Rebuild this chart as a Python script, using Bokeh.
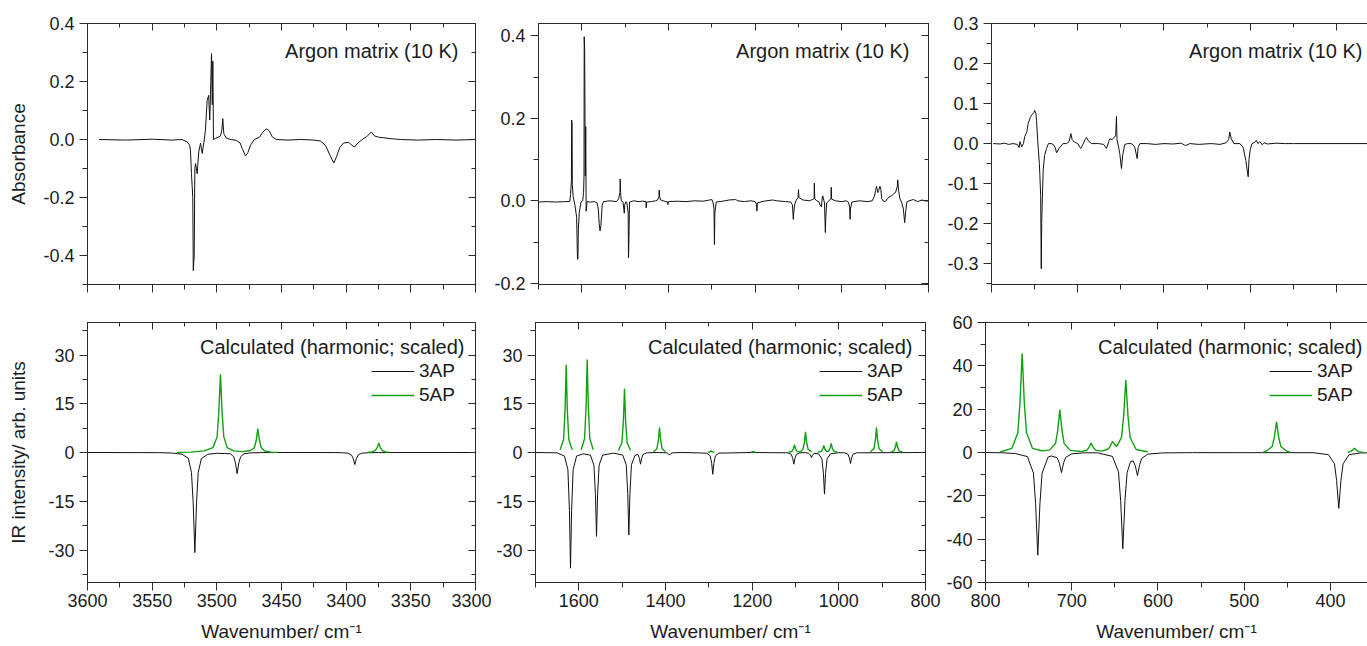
from bokeh.plotting import figure
from bokeh.models import (Range1d, LinearAxis, FixedTicker, PrintfTickFormatter,
                          CustomJSTickFormatter, Label, Legend, LegendItem)
from bokeh.layouts import row, column
from bokeh.embed import file_html
from bokeh.resources import INLINE

NAN = float("nan")

# ---------------- data ----------------
# Experimental difference spectra, Argon matrix (10 K): (wavenumber, absorbance)
exp_oh = [
    (3591, 0.0), (3570, -0.002), (3550, 0.001), (3535, -0.002), (3527, 0.0), (3523, -0.008), (3521, -0.02),
    (3520.4, -0.037), (3519.6, -0.118), (3518.6, -0.2), (3518.2, -0.452), (3517.5, -0.40), (3517.0, -0.10),
    (3516.5, -0.083), (3515.2, -0.118), (3514.0, -0.043), (3512.6, -0.013), (3511.3, -0.048), (3510.0, -0.01),
    (3508.8, 0.032), (3507.5, 0.135), (3506.3, 0.152), (3505.5, 0.067), (3504.9, 0.155), (3504.1, 0.296),
    (3503.5, 0.12), (3503.1, 0.27), (3502.6, 0.0), (3501.0, 0.004), (3499.0, 0.008), (3497.2, 0.012),
    (3496.2, 0.03), (3495.4, 0.072), (3494.6, 0.02), (3492.5, 0.004), (3489, 0.0), (3485, -0.003),
    (3482, -0.012), (3480, -0.035), (3477.8, -0.057), (3476, -0.045), (3474, -0.02), (3471, 0.0), (3467, 0.008),
    (3464.5, 0.025), (3461.6, 0.037), (3459.5, 0.03), (3457, 0.008), (3454, 0.0), (3445, -0.002), (3435, 0.0),
    (3425, -0.002), (3420, -0.005), (3416, -0.02), (3413, -0.05), (3409.6, -0.081), (3407.5, -0.06),
    (3405, -0.028), (3402, -0.012), (3398, -0.01), (3395.5, -0.02), (3393.6, -0.026), (3391, -0.012),
    (3387, 0.002), (3384, 0.01), (3380.6, 0.026), (3378, 0.012), (3375, 0.008), (3371, 0.006), (3366, 0.003),
    (3358, 0.0), (3345, -0.002), (3330, 0.0), (3315, -0.002), (3300, 0.0),
]
exp_mid = [
    (1700, -0.003), (1680, -0.002), (1660, -0.003), (1640, -0.002), (1628, -0.002), (1626, 0.015), (1624, 0.05),
    (1623.5, 0.196), (1622.5, 0.19), (1622, 0.04), (1620, 0.01), (1616, -0.01), (1612, -0.04), (1610, -0.142),
    (1609, -0.14), (1608, -0.069), (1606, -0.03), (1602, -0.003), (1598, 0.0), (1596, 0.02), (1595, 0.06),
    (1594.5, 0.398), (1593.5, 0.37), (1592, 0.06), (1591, 0.18), (1590, -0.025), (1588, -0.002), (1580, -0.003),
    (1570, -0.002), (1565, -0.005), (1562, -0.02), (1560, -0.055), (1558, -0.073), (1556, -0.06), (1553, -0.01),
    (1550, -0.002), (1535, 0.0), (1520, -0.002), (1515, 0.005), (1512, 0.02), (1511.5, 0.053), (1510.5, 0.02),
    (1509, 0.0), (1505, -0.003), (1502, -0.03), (1501, -0.01), (1498, -0.002), (1496, -0.005), (1493, -0.03),
    (1492.3, -0.138), (1491.5, -0.105), (1490, -0.003), (1480, 0.0), (1470, -0.002), (1460, -0.001),
    (1452, -0.002), (1451.5, -0.017), (1450.5, -0.003), (1440, -0.002), (1430, 0.0), (1425, 0.002),
    (1422, 0.01), (1421.5, 0.026), (1420.5, 0.01), (1418, 0.002), (1410, -0.001), (1403, -0.002),
    (1401.5, -0.009), (1400, -0.002), (1380, -0.001), (1360, -0.002), (1340, 0.0), (1320, -0.001),
    (1305, 0.002), (1300, 0.003), (1297, -0.005), (1295, -0.02), (1294, -0.106), (1293, -0.03), (1290, -0.003),
    (1275, -0.001), (1260, 0.002), (1245, 0.003), (1240, 0.0), (1225, -0.002), (1210, 0.0), (1200, -0.002),
    (1197, -0.008), (1196, -0.025), (1195, -0.005), (1180, -0.001), (1160, 0.002), (1150, 0.0), (1130, -0.002),
    (1118, -0.003), (1114, -0.01), (1112, -0.045), (1111, -0.03), (1109, -0.01), (1106, 0.0), (1101, 0.008),
    (1100, 0.027), (1099, 0.008), (1090, 0.002), (1075, 0.0), (1068, 0.003), (1064, 0.005), (1063.5, 0.043),
    (1062.5, 0.005), (1058, 0.0), (1053, -0.002), (1050, -0.01), (1047, -0.015), (1045, 0.01), (1044, 0.012),
    (1040, -0.005), (1038, -0.077), (1037, -0.04), (1035, -0.005), (1030, 0.0), (1025, 0.005), (1024.5, 0.033),
    (1023.5, 0.004), (1015, 0.0), (1000, -0.002), (990, 0.0), (985, -0.003), (982, -0.015), (981, -0.045),
    (980, -0.02), (977, -0.003), (960, 0.0), (940, -0.002), (930, 0.0), (925, 0.01), (922, 0.025), (920, 0.035),
    (917, 0.02), (915, 0.025), (912, 0.035), (910, 0.028), (908, 0.005), (905, 0.0), (900, -0.002), (895, 0.005),
    (890, 0.01), (885, 0.012), (880, 0.018), (876, 0.02), (872, 0.035), (871, 0.051), (869, 0.025), (866, 0.005),
    (862, -0.003), (858, -0.02), (855, -0.053), (853, -0.03), (850, -0.003), (845, 0.0), (835, 0.003),
    (825, -0.002), (815, 0.002), (805, -0.001), (800, 0.0),
]
exp_low = [
    (798, 0.0), (790, -0.001), (785, 0.001), (780, -0.002), (775, 0.0), (770, -0.002), (768, -0.01), (767, 0.005),
    (765, -0.008), (763, 0.0), (761.5, 0.017), (759, 0.03), (757.5, 0.05), (755, 0.065), (753.5, 0.071),
    (751, 0.077), (750, 0.083), (748.5, 0.075), (747.8, 0.058), (746.5, 0.01), (745.9, -0.009), (744.5, -0.05),
    (744, -0.075), (743, -0.13), (742.3, -0.3125), (741.8, -0.2), (741, -0.134), (740.1, -0.067), (738.5, -0.03),
    (736.2, -0.0125), (734, 0.0), (731, 0.0), (728.5, -0.002), (726, -0.01), (724.6, -0.023), (721, -0.01),
    (717, 0.0), (713, 0.0), (710, 0.005), (708, 0.025), (706.5, 0.01), (704, 0.004), (700, 0.0), (697.5, -0.01),
    (696.4, -0.012), (694, -0.002), (691.5, 0.01), (689.9, 0.015), (687, 0.005), (684, 0.0), (676, 0.0),
    (670, -0.002), (666.7, -0.012), (664, 0.005), (662.8, 0.012), (660, 0.01), (658, 0.015), (656, 0.02),
    (655.1, 0.068), (654.5, 0.01), (652.5, -0.01), (651.3, -0.025), (649.3, -0.0625), (648, -0.03),
    (645.5, -0.002), (642, 0.0), (638, 0.0), (635, -0.005), (633.8, -0.01), (631.1, -0.0375), (630, -0.01),
    (628, 0.0), (620, 0.0), (610, -0.002), (600, 0.0), (590, -0.001), (580, 0.001), (575, -0.005), (570, 0.0),
    (560, -0.002), (545, 0.0), (535, -0.002), (528, 0.002), (525, 0.01), (523.7, 0.029), (522, 0.012),
    (519, 0.0), (512, 0.0), (508.2, -0.01), (505.1, -0.042), (503, -0.075), (502.4, -0.083), (501.5, -0.04),
    (500, -0.015), (498, 0.0), (495, 0.003), (493, 0.008), (491, 0.0), (489, 0.005), (486, -0.003),
    (484, 0.002), (480, -0.001), (470, 0.001), (460, 0.0), (450, 0.0), (350, 0.0),
]

# Calculated spectra (harmonic; scaled): 3AP drawn negative, 5AP positive
calc_oh_3ap = [
    (3600, 0), (3545, -0.05), (3535, -0.15), (3527, -0.5), (3522, -1.8), (3519.6, -6.2), (3518.3, -15.4),
    (3517.0, -30.8), (3515.7, -15.4), (3514.4, -6.2), (3512, -1.9), (3507, -0.55), (3500, -0.25), (3494, -0.3),
    (3489.5, -0.4), (3487, -1.3), (3485.6, -3.2), (3484.3, -6.5), (3483, -3.2), (3481.6, -1.3), (3479, -0.4),
    (3474, -0.12), (3465, -0.03), (3450, 0), (3410, -0.02), (3403, -0.07), (3398.5, -0.22), (3396, -0.7),
    (3394.6, -1.8), (3393.3, -3.7), (3392, -1.8), (3390.6, -0.7), (3388, -0.22), (3383, -0.07), (3375, -0.02),
    (3300, 0),
]
calc_oh_5ap = [
    (3531, 0.05), (3520, 0.12), (3510, 0.5), (3503, 1.5), (3499.8, 4.8), (3498.5, 12.0), (3497.2, 24.1),
    (3495.9, 12.0), (3494.6, 4.8), (3492, 1.5), (3487, 0.5), (3480, 0.26), (3474, 0.6), (3471, 1.45),
    (3469.6, 3.6), (3468.3, 7.3), (3467, 3.6), (3465.6, 1.45), (3463, 0.45), (3458, 0.12), (3453, 0.05),
    (NAN, NAN),
    (3383, 0.08), (3380, 0.2), (3377.4, 0.65), (3376.1, 1.45), (3374.8, 2.9), (3373.5, 1.45), (3372.2, 0.65),
    (3369.6, 0.2), (3367, 0.08),
]
calc_mid_3ap = [
    (1700, 0), (1650, -0.1), (1633.2, -1.1), (1625.2, -5.3), (1621.7, -17.8), (1619.2, -35.6), (1616.7, -17.8),
    (1613.2, -5.3), (1605.2, -1.1), (1590, -0.4), (1573.2, -0.8), (1565.2, -3.9), (1561.7, -12.9),
    (1559.2, -25.8), (1556.7, -12.9), (1553.2, -3.9), (1545.2, -0.8), (1520, -0.2), (1498.6, -0.8),
    (1490.6, -3.8), (1487.1, -12.7), (1484.6, -25.4), (1482.1, -12.7), (1478.6, -3.8), (1470.6, -0.9),
    (1463.7, -0.6), (1460.2, -1.8), (1457.7, -3.6), (1455.2, -1.8), (1451.7, -0.6), (1443.7, -0.1), (1420, 0),
    (1396.8, -0.1), (1393.3, -0.4), (1390.8, -0.8), (1388.3, -0.4), (1384.8, -0.1), (1360, 0), (1304.9, -0.2),
    (1296.9, -1.0), (1293.4, -3.35), (1290.9, -6.7), (1288.4, -3.35), (1284.9, -1.0), (1276.9, -0.2), (1200, 0),
    (1117.9, -0.1), (1109.9, -0.55), (1106.4, -1.8), (1103.9, -3.6), (1101.4, -1.8), (1097.9, -0.55),
    (1089.9, -0.1), (1077, -0.05), (1069.1, -0.25), (1065.6, -0.8), (1063.1, -1.6), (1060.6, -0.8),
    (1057.1, -0.25), (1047.1, -0.4), (1039.1, -1.9), (1035.6, -6.4), (1033.1, -12.8), (1030.6, -6.4),
    (1027.1, -1.9), (1019.1, -0.4), (1000, -0.05), (987.1, -0.1), (979.1, -0.5), (975.6, -1.7), (973.1, -3.4),
    (970.6, -1.7), (967.1, -0.5), (959.1, -0.1), (800, 0),
]
calc_mid_5ap = [
    (1643.2, 0.8), (1635.2, 4.0), (1631.7, 13.5), (1629.2, 27.0), (1626.7, 13.5), (1623.2, 4.0), (1615.2, 0.8),
    (NAN, NAN),
    (1594.7, 0.86), (1586.7, 4.3), (1583.2, 14.3), (1580.7, 28.6), (1578.2, 14.3), (1574.7, 4.3), (1566.7, 0.86),
    (NAN, NAN),
    (1508.6, 0.6), (1500.6, 3.0), (1497.1, 9.85), (1494.6, 19.7), (1492.1, 9.85), (1488.6, 3.0), (1480.6, 0.6),
    (NAN, NAN),
    (1427.8, 0.23), (1419.8, 1.15), (1416.3, 3.85), (1413.8, 7.7), (1411.3, 3.85), (1407.8, 1.15), (1399.8, 0.23),
    (NAN, NAN),
    (1302, 0.05), (1297, 0.25), (1294.6, 0.5), (1292, 0.25), (1287, 0.05),
    (NAN, NAN),
    (1203, 0.05), (1197.7, 0.3), (1192, 0.05),
    (NAN, NAN),
    (1116.3, 0.07), (1108.3, 0.35), (1104.8, 1.15), (1102.3, 2.3), (1099.8, 1.15), (1096.3, 0.35), (1088, 0.25),
    (1082.9, 0.96), (1079.4, 3.2), (1076.9, 6.4), (1074.4, 3.2), (1070.9, 0.96), (1062.9, 0.2),
    (NAN, NAN),
    (1048.6, 0.07), (1040.6, 0.33), (1037.1, 1.1), (1034.6, 2.2), (1032.1, 1.1), (1028.6, 0.35), (1025, 0.25),
    (1023.7, 0.42), (1020.2, 1.4), (1017.7, 2.8), (1015.2, 1.4), (1011.7, 0.42), (1003.7, 0.08),
    (NAN, NAN),
    (927.1, 0.23), (919.1, 1.15), (915.6, 3.85), (913.1, 7.7), (910.6, 3.85), (907.1, 1.15), (899.1, 0.23),
    (NAN, NAN),
    (880.9, 0.1), (872.9, 0.5), (869.4, 1.65), (866.9, 3.3), (864.4, 1.65), (860.9, 0.5), (852.9, 0.1),
]
calc_low_3ap = [
    (800, 0), (780, -0.15), (765, -0.5), (751.4, -1.9), (744.4, -9.5), (741.9, -23.7), (739.4, -47.4),
    (736.9, -23.7), (734.4, -9.5), (727.4, -2.1), (723.9, -1.6), (716.9, -2.4), (714.4, -4.9), (711.9, -9.3),
    (709.4, -4.7), (706.9, -2.2), (699.9, -0.6), (685, -0.15), (670, -0.15), (652.8, -1.8), (645.8, -8.9),
    (643.3, -22.2), (640.8, -44.4), (638.3, -22.2), (635.8, -9.3), (631.8, -4.15), (628.8, -3.9),
    (626.3, -6.2), (623.8, -10.7), (621.3, -5.6), (618.8, -2.7), (611.8, -0.76), (595, -0.2), (560, -0.06),
    (420, -0.1), (402.4, -1.0), (395.4, -5.2), (392.9, -12.9), (390.4, -25.8), (387.9, -12.9), (385.4, -5.2),
    (378.4, -1.0), (365, -0.2), (350, -0.1),
]
calc_low_5ap = [
    (783, 0.25), (769.5, 1.9), (762.5, 9.1), (760, 22.9), (757.5, 45.7), (755, 22.9), (752.5, 9.2),
    (745.5, 1.9), (735, 0.83), (725.8, 1.1), (718.8, 4.15), (716.3, 10.1), (713.8, 19.8), (711.3, 10.05),
    (708.8, 4.1), (701.8, 0.97), (689.5, 0.43), (682.5, 1.05), (680, 2.3), (677.5, 4.3), (675, 2.3),
    (672.5, 1.1), (665, 0.64), (657.8, 1.6), (655.3, 3.0), (652.8, 5.1), (650.3, 3.75), (647.8, 2.8),
    (642.3, 7.0), (639.8, 16.9), (637.3, 33.4), (634.8, 16.8), (632.3, 6.8), (625.3, 1.4), (612, 0.32),
    (NAN, NAN),
    (478, 0.14), (474.6, 0.56), (467.6, 2.8), (465.1, 7.05), (462.6, 14.1), (460.1, 7.05), (457.6, 2.8),
    (450.6, 0.56), (447, 0.3),
    (NAN, NAN),
    (380, 0.1), (377.2, 0.4), (374.7, 1.0), (372.2, 2.0), (369.7, 1.0), (367.2, 0.4), (362, 0.08),
]

# axis ranges and ticks
x_ranges = [(3600, 3300), (1700, 800), (800, 357.1)]
x_major = [[3600, 3550, 3500, 3450, 3400, 3350, 3300], [1600, 1400, 1200, 1000, 800], [800, 700, 600, 500, 400]]
x_minor = [[3575, 3525, 3475, 3425, 3375, 3325], [1700, 1500, 1300, 1100, 900], [750, 650, 550, 450]]
exp_y_ranges = [(-0.5, 0.4), (-0.203, 0.43), (-0.352, 0.3)]
exp_y_major = [[-0.4, -0.2, 0.0, 0.2, 0.4], [-0.2, 0.0, 0.2, 0.4], [-0.3, -0.2, -0.1, 0.0, 0.1, 0.2, 0.3]]
exp_y_minor = [[-0.5, -0.3, -0.1, 0.1, 0.3], [-0.1, 0.1, 0.3], [-0.35, -0.25, -0.15, -0.05, 0.05, 0.15, 0.25]]
calc_y_ranges = [(-40, 40), (-40, 40), (-60, 60)]
calc_y_major = [[-30, -15, 0, 15, 30], [-30, -15, 0, 15, 30], [-60, -40, -20, 0, 20, 40, 60]]
calc_y_minor = [[-37.5, -22.5, -7.5, 7.5, 22.5, 37.5], [-37.5, -22.5, -7.5, 7.5, 22.5, 37.5],
                [-50, -30, -10, 10, 30, 50]]

exp_text = "Argon matrix (10 K)"
calc_text = "Calculated (harmonic; scaled)"
series_names = ["3AP", "5AP"]
x_title = "Wavenumber/ cm\u207b\u00b9"
y_title_top = "Absorbance"
y_title_bottom = "IR intensity/ arb. units"

# ---------------- styling / layout ----------------
FONT = "Liberation Sans"
TXT = "#1c1c1c"
AXC = "#2a2a2a"
GREEN = "#10a010"

COLS = [dict(bl=87, fw=388, br=16), dict(bl=44, fw=390, br=16), dict(bl=44, fw=382, br=0)]
ROWS = [dict(bt=23, fh=261, bb=16), dict(bt=22, fh=260, bb=64)]


def xy(pairs):
    return [a for a, _ in pairs], [b for _, b in pairs]


def hide_labels(ax):
    ax.formatter = CustomJSTickFormatter(code="return ''")
    ax.major_label_text_font_size = "0px"
    ax.major_label_standoff = 0


def base_axis(ax, inward=False):
    ax.axis_line_color = AXC
    ax.axis_line_width = 1
    ax.major_tick_line_color = AXC
    ax.minor_tick_line_color = AXC
    if inward:
        ax.major_tick_in, ax.major_tick_out = 7, 0
        ax.minor_tick_in, ax.minor_tick_out = 4, 0
        hide_labels(ax)
    else:
        ax.major_tick_in, ax.major_tick_out = 0, 8
        ax.minor_tick_in, ax.minor_tick_out = 0, 5
        ax.major_label_text_font = FONT
        ax.major_label_text_font_size = "18px"
        ax.major_label_text_color = TXT
        ax.axis_label_text_font = FONT
        ax.axis_label_text_font_size = "19px"
        ax.axis_label_text_font_style = "normal"
        ax.axis_label_text_color = TXT


def make_panel(ci, ri, yr, ymaj, ymin, yfmt, ytitle=None, ytitle_standoff=0):
    c, r = COLS[ci], ROWS[ri]
    xr = x_ranges[ci]
    p = figure(x_range=Range1d(*xr), y_range=Range1d(*yr),
               frame_width=c["fw"], frame_height=r["fh"],
               min_border_left=c["bl"], min_border_right=c["br"],
               min_border_top=r["bt"], min_border_bottom=r["bb"],
               x_axis_location=None, y_axis_location=None, title=None,
               toolbar_location=None, output_backend="svg",
               background_fill_color="white", border_fill_color="white")
    p.grid.visible = False
    last = ci == 2
    p.outline_line_color = None if last else AXC
    xtk = FixedTicker(ticks=x_major[ci], minor_ticks=x_minor[ci])
    ytk = FixedTicker(ticks=ymaj, minor_ticks=ymin)

    bottom = LinearAxis(ticker=xtk, formatter=PrintfTickFormatter(format="%d"))
    base_axis(bottom)
    if ri == 1:
        bottom.major_label_standoff = 3
        bottom.axis_label = x_title
        bottom.axis_label_standoff = 11
    else:
        hide_labels(bottom)
    left = LinearAxis(ticker=ytk, formatter=PrintfTickFormatter(format=yfmt))
    base_axis(left)
    left.major_label_standoff = 5
    if ytitle:
        left.axis_label = ytitle
        left.axis_label_standoff = ytitle_standoff
    top = LinearAxis(ticker=xtk)
    base_axis(top, inward=True)
    p.add_layout(bottom, "below")
    p.add_layout(left, "left")
    p.add_layout(top, "above")
    if not last:
        right = LinearAxis(ticker=ytk)
        base_axis(right, inward=True)
        p.add_layout(right, "right")
    return p


def corner_text(p, ci, ri, yr, dx, dy, text):
    # right-aligned text, dx px from the frame's left edge, dy px below its top edge
    xr = x_ranges[ci]
    fw, fh = COLS[ci]["fw"], ROWS[ri]["fh"]
    x = xr[0] + (xr[1] - xr[0]) * dx / fw
    y = yr[1] - (yr[1] - yr[0]) * dy / fh
    p.add_layout(Label(x=x, y=y, text=text, text_align="right", text_baseline="alphabetic",
                       text_font=FONT, text_font_size="20px", text_color=TXT))


exp_data = [exp_oh, exp_mid, exp_low]
calc_3ap = [calc_oh_3ap, calc_mid_3ap, calc_low_3ap]
calc_5ap = [calc_oh_5ap, calc_mid_5ap, calc_low_5ap]

top_row, bottom_row = [], []
for ci in range(3):
    # experimental
    pt = make_panel(ci, 0, exp_y_ranges[ci], exp_y_major[ci], exp_y_minor[ci], "%.1f",
                    ytitle=y_title_top if ci == 0 else None, ytitle_standoff=11)
    ex, ey = xy(exp_data[ci])
    pt.line(ex, ey, line_color="#111111", line_width=1.0)
    corner_text(pt, ci, 0, exp_y_ranges[ci], 371, 27, exp_text)
    top_row.append(pt)

    # calculated
    pb = make_panel(ci, 1, calc_y_ranges[ci], calc_y_major[ci], calc_y_minor[ci], "%d",
                    ytitle=y_title_bottom if ci == 0 else None, ytitle_standoff=16)
    bx_, by_ = xy(calc_3ap[ci])
    gx_, gy_ = xy(calc_5ap[ci])
    r3 = pb.line(bx_, by_, line_color="#111111", line_width=1.0)
    r5 = pb.line(gx_, gy_, line_color=GREEN, line_width=1.4)
    corner_text(pb, ci, 1, calc_y_ranges[ci], 377, 24, calc_text)
    leg = Legend(items=[LegendItem(label=series_names[0], renderers=[r3]),
                        LegendItem(label=series_names[1], renderers=[r5])],
                 location=(284, 175), glyph_width=43, glyph_height=24, label_height=24,
                 label_standoff=5, spacing=0, padding=0, margin=0,
                 border_line_color=None, background_fill_alpha=0,
                 label_text_font=FONT, label_text_font_size="19px", label_text_color=TXT)
    pb.add_layout(leg)
    bottom_row.append(pb)

layout = column(row(*top_row), row(*bottom_row))
open("out.html", "w").write(file_html(layout, INLINE, "IR spectra"))
